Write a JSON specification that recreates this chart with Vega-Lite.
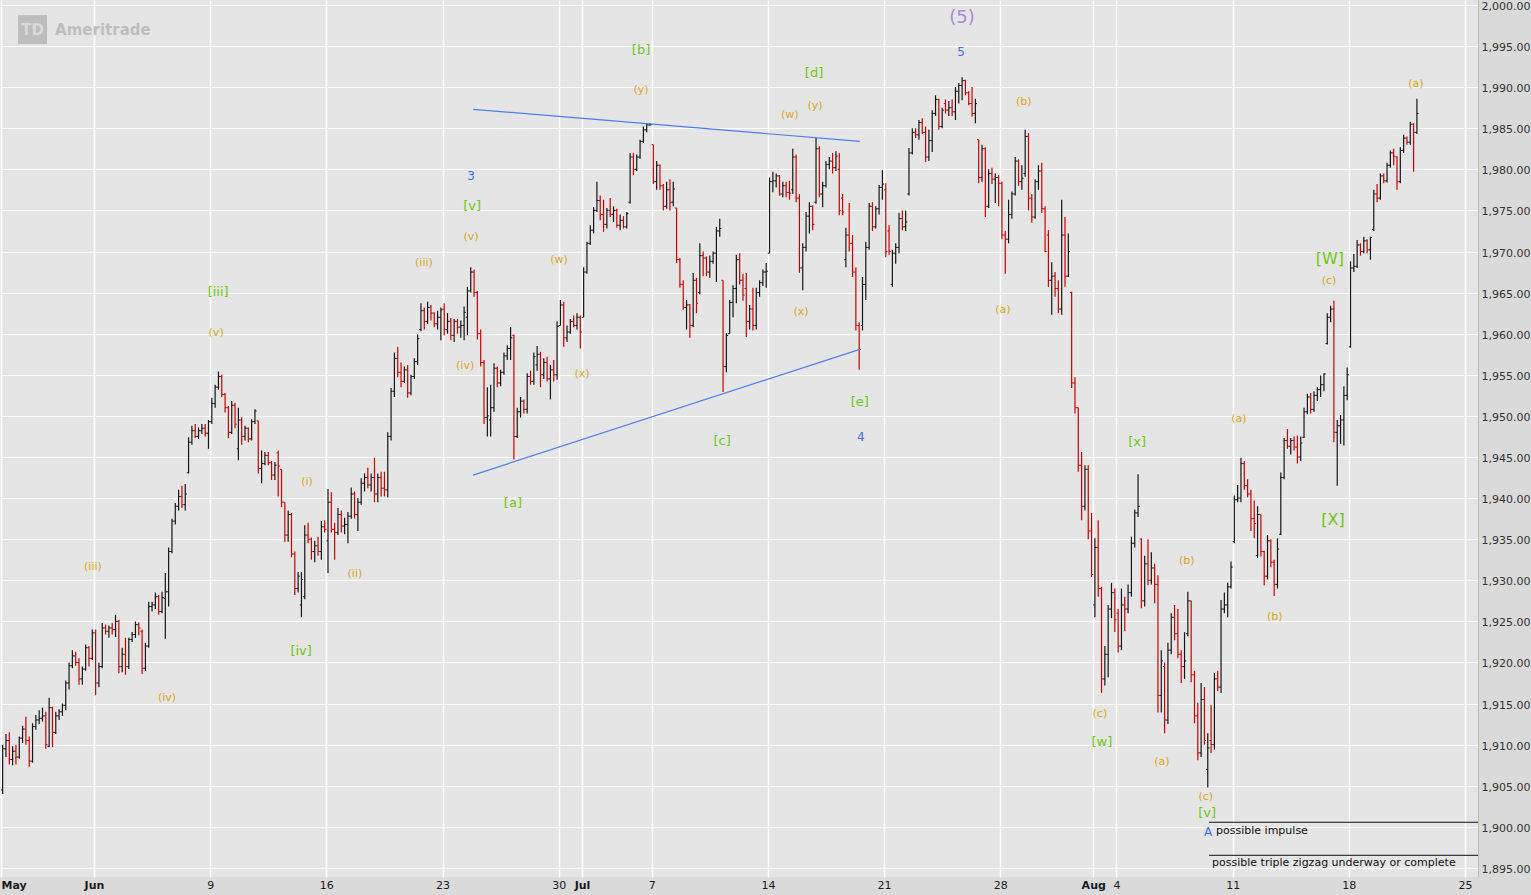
{
  "$schema": "https://vega.github.io/schema/vega-lite/v6.json",
  "width": 1478,
  "height": 877,
  "autosize": {"type": "none"},
  "padding": {"left": 0, "top": 0, "right": 53, "bottom": 18},
  "background": "#dadada",
  "config": {
    "view": {"fill": "#e5e5e5", "stroke": null},
    "font": "DejaVu Sans",
    "axis": {"labelFont": "DejaVu Sans", "labelColor": "#1a1a1a", "labelFontSize": 11, "ticks": false, "gridColor": "#ffffff", "gridOpacity": 1, "title": null}
  },
  "datasets": {
    "bars": [
      {"t":0,"o":1904.5,"h":1910,"l":1904,"c":1909.5},{"t":1,"o":1909.5,"h":1911.3,"l":1908.5,"c":1910.5},{"t":2,"o":1910.5,"h":1911.5,"l":1907.6,"c":1908.2},{"t":3,"o":1908.2,"h":1909.8,"l":1907.5,"c":1909.2},{"t":4,"o":1909.2,"h":1910,"l":1907.6,"c":1908.5},{"t":5,"o":1908.5,"h":1911,"l":1908.3,"c":1910.8},{"t":6,"o":1910.8,"h":1912.3,"l":1910.2,"c":1911.9},
      {"t":7,"o":1911.9,"h":1913.4,"l":1910,"c":1910.5},{"t":8,"o":1910.5,"h":1911,"l":1907.3,"c":1908},{"t":9,"o":1908,"h":1912.6,"l":1907.8,"c":1912.2},{"t":10,"o":1912.2,"h":1913.6,"l":1911.8,"c":1913},{"t":11,"o":1913,"h":1914.2,"l":1912.5,"c":1913.2},{"t":12,"o":1913.2,"h":1914.5,"l":1912.8,"c":1913.5},{"t":13,"o":1913.5,"h":1914,"l":1909.5,"c":1910},
      {"t":14,"o":1909.8,"h":1915.7,"l":1909.7,"c":1914.5},{"t":15,"o":1914.5,"h":1914.6,"l":1909.7,"c":1911.5},{"t":16,"o":1911.5,"h":1914,"l":1911.3,"c":1913.5},{"t":17,"o":1913.5,"h":1914.3,"l":1913,"c":1914},{"t":18,"o":1914,"h":1915,"l":1913.5,"c":1914.8},{"t":19,"o":1914.8,"h":1917.8,"l":1914.2,"c":1917.5},{"t":20,"o":1917.5,"h":1920,"l":1916.7,"c":1919.6},
      {"t":21,"o":1919.6,"h":1921.5,"l":1919.3,"c":1920.8},{"t":22,"o":1920.8,"h":1921.3,"l":1919.6,"c":1920},{"t":23,"o":1920,"h":1920.5,"l":1917.3,"c":1918},{"t":24,"o":1918,"h":1919.5,"l":1917.3,"c":1919.2},{"t":25,"o":1919.2,"h":1922.2,"l":1919,"c":1921.8},{"t":26,"o":1921.8,"h":1922,"l":1919.5,"c":1920.5},{"t":27,"o":1920.5,"h":1924,"l":1920.3,"c":1923.6},
      {"t":28,"o":1923.6,"h":1924,"l":1916,"c":1917.5},{"t":29,"o":1917.5,"h":1920,"l":1917,"c":1919.5},{"t":30,"o":1919.5,"h":1924.8,"l":1919.3,"c":1924.2},{"t":31,"o":1924.2,"h":1924.6,"l":1923.4,"c":1923.8},{"t":32,"o":1923.8,"h":1924.5,"l":1923,"c":1924.2},{"t":33,"o":1924.2,"h":1924.8,"l":1923.4,"c":1924},{"t":34,"o":1924,"h":1925.8,"l":1923.1,"c":1925},
      {"t":35,"o":1925,"h":1925.2,"l":1918.7,"c":1919.5},{"t":36,"o":1919.5,"h":1921.8,"l":1918.8,"c":1921},{"t":37,"o":1921,"h":1923,"l":1918.5,"c":1919.5},{"t":38,"o":1919.5,"h":1923,"l":1919.2,"c":1922.8},{"t":39,"o":1922.8,"h":1923.7,"l":1922.5,"c":1923.4},{"t":40,"o":1923.4,"h":1925,"l":1923,"c":1924.6},{"t":41,"o":1924.6,"h":1924.9,"l":1923.3,"c":1924.2},
      {"t":42,"o":1923.8,"h":1924,"l":1918.6,"c":1919.3},{"t":43,"o":1919.3,"h":1922.4,"l":1919,"c":1922},{"t":44,"o":1922,"h":1927.4,"l":1921.8,"c":1926.8},{"t":45,"o":1926.8,"h":1927.4,"l":1926.2,"c":1927},{"t":46,"o":1927,"h":1928.5,"l":1926.5,"c":1928},{"t":47,"o":1928,"h":1928.2,"l":1925.8,"c":1926.2},{"t":48,"o":1926.2,"h":1928.6,"l":1926,"c":1927.9},
      {"t":49,"o":1927.8,"h":1930.9,"l":1922.9,"c":1928.6},{"t":50,"o":1928.6,"h":1934,"l":1926.8,"c":1933.5},{"t":51,"o":1933.5,"h":1937.5,"l":1933.3,"c":1937.2},{"t":52,"o":1937.2,"h":1939.4,"l":1936.8,"c":1939},{"t":53,"o":1939,"h":1941,"l":1938.5,"c":1940.2},{"t":54,"o":1940.2,"h":1941.5,"l":1938.8,"c":1939.2},{"t":55,"o":1939.2,"h":1941.7,"l":1938.5,"c":1940.5},
      {"t":56,"o":1943.1,"h":1947.4,"l":1943,"c":1946.8},{"t":57,"o":1946.8,"h":1948.8,"l":1946.5,"c":1948.2},{"t":58,"o":1948.2,"h":1949,"l":1947.3,"c":1947.5},{"t":59,"o":1947.5,"h":1948.6,"l":1947.2,"c":1948.2},{"t":60,"o":1948.2,"h":1949,"l":1947.8,"c":1948.5},{"t":61,"o":1948.5,"h":1949,"l":1947.5,"c":1947.9},{"t":62,"o":1947.9,"h":1949.5,"l":1946,"c":1949.3},
      {"t":63,"o":1949.3,"h":1952.2,"l":1949,"c":1951.5},{"t":64,"o":1951.5,"h":1953.8,"l":1951,"c":1953.5},{"t":65,"o":1953.5,"h":1955.4,"l":1953.2,"c":1954.8},{"t":66,"o":1954.8,"h":1955,"l":1952.3,"c":1952.6},{"t":67,"o":1952.6,"h":1952.8,"l":1950.4,"c":1951},{"t":68,"o":1951,"h":1951.2,"l":1947.3,"c":1948},{"t":69,"o":1948,"h":1951.8,"l":1947.8,"c":1951.3},
      {"t":70,"o":1951.3,"h":1951.6,"l":1948.5,"c":1949},{"t":71,"o":1946,"h":1951,"l":1944.6,"c":1949.5},{"t":72,"o":1949.5,"h":1949.8,"l":1946.5,"c":1947.5},{"t":73,"o":1947.5,"h":1948.8,"l":1947,"c":1948.5},{"t":74,"o":1948.5,"h":1948.6,"l":1946.8,"c":1947.2},{"t":75,"o":1947.2,"h":1949.6,"l":1947,"c":1949.3},{"t":76,"o":1949.3,"h":1950.8,"l":1949,"c":1950.6},
      {"t":77,"o":1949.4,"h":1949.4,"l":1943,"c":1943.6},{"t":78,"o":1943.6,"h":1945.8,"l":1941.8,"c":1944.2},{"t":79,"o":1944.2,"h":1945.6,"l":1944,"c":1945.2},{"t":80,"o":1945.2,"h":1945.6,"l":1944,"c":1944.3},{"t":81,"o":1944.3,"h":1944.5,"l":1942.2,"c":1942.8},{"t":82,"o":1942.8,"h":1944.4,"l":1942.2,"c":1944},{"t":83,"o":1945.5,"h":1945.8,"l":1940.2,"c":1943.9},
      {"t":84,"o":1943.5,"h":1943.5,"l":1938.9,"c":1939.5},{"t":85,"o":1939.5,"h":1939.5,"l":1934.7,"c":1935.5},{"t":86,"o":1935.5,"h":1938.5,"l":1934.7,"c":1938},{"t":87,"o":1938,"h":1938.2,"l":1932.8,"c":1933.2},{"t":88,"o":1933.2,"h":1933.5,"l":1928.2,"c":1929},{"t":89,"o":1929,"h":1931,"l":1928.5,"c":1930.5},{"t":90,"o":1927,"h":1931,"l":1925.5,"c":1930.1},
      {"t":91,"o":1928,"h":1936.7,"l":1927.7,"c":1935.5},{"t":92,"o":1935.5,"h":1937,"l":1934.5,"c":1935},{"t":93,"o":1935,"h":1935.2,"l":1932.5,"c":1933.5},{"t":94,"o":1933.5,"h":1934.8,"l":1932.2,"c":1934.2},{"t":95,"o":1934.2,"h":1935.3,"l":1933,"c":1933.5},{"t":96,"o":1933.5,"h":1937.2,"l":1932.5,"c":1936.5},{"t":97,"o":1936.5,"h":1937.3,"l":1935.8,"c":1936.2},
      {"t":98,"o":1934.8,"h":1941.1,"l":1930.9,"c":1939.5},{"t":99,"o":1939.5,"h":1940.7,"l":1935.8,"c":1936.2},{"t":100,"o":1936.2,"h":1937,"l":1932.5,"c":1935.8},{"t":101,"o":1935.8,"h":1938.8,"l":1935.5,"c":1938},{"t":102,"o":1938,"h":1938.5,"l":1935.8,"c":1936.6},{"t":103,"o":1936.6,"h":1937.6,"l":1935.6,"c":1936.8},{"t":104,"o":1936.8,"h":1938.3,"l":1934.5,"c":1937.8},
      {"t":105,"o":1937.8,"h":1941.3,"l":1937.5,"c":1940.5},{"t":106,"o":1940.5,"h":1940.8,"l":1937.5,"c":1938},{"t":107,"o":1938,"h":1940,"l":1936,"c":1939.5},{"t":108,"o":1939.5,"h":1942.4,"l":1939.2,"c":1941.8},{"t":109,"o":1941.8,"h":1943,"l":1940.8,"c":1942.5},{"t":110,"o":1942.5,"h":1943.7,"l":1941.2,"c":1941.6},{"t":111,"o":1941.6,"h":1943,"l":1940.8,"c":1942.5},
      {"t":112,"o":1942.5,"h":1944.9,"l":1939.5,"c":1940.5},{"t":113,"o":1940.5,"h":1943,"l":1939.5,"c":1942.5},{"t":114,"o":1942.5,"h":1943.2,"l":1940.2,"c":1941.2},{"t":115,"o":1941.2,"h":1943.2,"l":1940.2,"c":1941},{"t":116,"o":1941,"h":1948,"l":1940.1,"c":1947.5},{"t":117,"o":1947.5,"h":1953.4,"l":1947,"c":1953},{"t":118,"o":1953,"h":1957.7,"l":1952.3,"c":1957},
      {"t":119,"o":1957,"h":1958.4,"l":1954.7,"c":1955.3},{"t":120,"o":1955.3,"h":1956.5,"l":1953.5,"c":1954.2},{"t":121,"o":1954.2,"h":1956,"l":1954,"c":1955.6},{"t":122,"o":1955.6,"h":1956.2,"l":1952.2,"c":1952.8},{"t":123,"o":1952.8,"h":1955,"l":1952.5,"c":1954.8},{"t":124,"o":1954.8,"h":1957,"l":1954.5,"c":1956.6},{"t":125,"o":1956.6,"h":1959.9,"l":1956.2,"c":1959.4},
      {"t":126,"o":1960.5,"h":1963.7,"l":1960.3,"c":1962.8},{"t":127,"o":1962.8,"h":1963.2,"l":1960.5,"c":1961.5},{"t":128,"o":1961.5,"h":1963.9,"l":1961.2,"c":1963.2},{"t":129,"o":1963.2,"h":1963.5,"l":1961.6,"c":1962.5},{"t":130,"o":1962.5,"h":1962.6,"l":1960.8,"c":1961.2},{"t":131,"o":1961.2,"h":1962.8,"l":1960.5,"c":1962},{"t":132,"o":1962,"h":1963.2,"l":1959.2,"c":1962.9},
      {"t":133,"o":1963,"h":1963.7,"l":1959.8,"c":1960.5},{"t":134,"o":1960.5,"h":1962.5,"l":1960,"c":1961.5},{"t":135,"o":1961.5,"h":1961.9,"l":1959.2,"c":1959.8},{"t":136,"o":1959.8,"h":1961.8,"l":1959,"c":1961.5},{"t":137,"o":1961.5,"h":1961.8,"l":1960,"c":1960.8},{"t":138,"o":1960.8,"h":1961.6,"l":1959.5,"c":1961},{"t":139,"o":1961,"h":1963.3,"l":1959.2,"c":1962.6},
      {"t":140,"o":1962,"h":1965.7,"l":1959.8,"c":1965.2},{"t":141,"o":1965.2,"h":1968.1,"l":1965,"c":1967.5},{"t":142,"o":1967.5,"h":1967.8,"l":1964.5,"c":1965},{"t":143,"o":1965,"h":1965.2,"l":1959.3,"c":1960},{"t":144,"o":1960,"h":1960.5,"l":1956,"c":1956.5},{"t":145,"o":1956.5,"h":1956.8,"l":1949,"c":1949.8},{"t":146,"o":1949.8,"h":1953.5,"l":1947.5,"c":1950},
      {"t":147,"o":1949.5,"h":1953.8,"l":1947.5,"c":1951},{"t":148,"o":1951,"h":1956.4,"l":1950.5,"c":1955.8},{"t":149,"o":1955.8,"h":1956,"l":1953.5,"c":1954},{"t":150,"o":1954,"h":1955.6,"l":1953.6,"c":1955.3},{"t":151,"o":1955.3,"h":1957.7,"l":1955,"c":1957.3},{"t":152,"o":1957.3,"h":1958.6,"l":1956.8,"c":1958.2},{"t":153,"o":1958.2,"h":1960.8,"l":1956.8,"c":1959.5},
      {"t":154,"o":1959.8,"h":1959.9,"l":1944.7,"c":1947.5},{"t":155,"o":1947.5,"h":1951,"l":1947.3,"c":1950.5},{"t":156,"o":1950.5,"h":1952.3,"l":1949.8,"c":1951.8},{"t":157,"o":1951.8,"h":1952,"l":1950.3,"c":1950.8},{"t":158,"o":1950.8,"h":1955.2,"l":1950.3,"c":1954.8},{"t":159,"o":1954.8,"h":1955.5,"l":1953.8,"c":1954.2},{"t":160,"o":1954.2,"h":1957.7,"l":1953.8,"c":1957.2},
      {"t":161,"o":1956.2,"h":1958.5,"l":1955.5,"c":1957.5},{"t":162,"o":1957.5,"h":1957.8,"l":1953.5,"c":1955},{"t":163,"o":1955,"h":1957,"l":1954.5,"c":1956.5},{"t":164,"o":1956.5,"h":1957.2,"l":1954.2,"c":1954.5},{"t":165,"o":1954.5,"h":1956.2,"l":1952,"c":1955.6},{"t":166,"o":1955.6,"h":1956.8,"l":1954.2,"c":1955},{"t":167,"o":1955,"h":1961.5,"l":1954.4,"c":1960.9},
      {"t":168,"o":1961,"h":1964.1,"l":1961,"c":1963.5},{"t":169,"o":1963.5,"h":1963.9,"l":1958.4,"c":1959.5},{"t":170,"o":1959.5,"h":1961,"l":1959,"c":1960.2},{"t":171,"o":1960.2,"h":1961.8,"l":1960,"c":1961.5},{"t":172,"o":1961.5,"h":1962.2,"l":1960.8,"c":1961},{"t":173,"o":1961,"h":1962.5,"l":1960.5,"c":1962},{"t":174,"o":1962,"h":1962.2,"l":1958.2,"c":1960.2},
      {"t":175,"o":1962,"h":1968.1,"l":1962,"c":1967.5},{"t":176,"o":1967.5,"h":1971.2,"l":1967.3,"c":1971},{"t":177,"o":1971,"h":1973.2,"l":1970.8,"c":1972.6},{"t":178,"o":1972.6,"h":1975.4,"l":1972.2,"c":1975},{"t":179,"o":1975,"h":1978.5,"l":1974.8,"c":1976.2},{"t":180,"o":1976.2,"h":1976.8,"l":1973.8,"c":1974.5},{"t":181,"o":1974.5,"h":1976.3,"l":1972.4,"c":1973.3},
      {"t":182,"o":1973.3,"h":1975.3,"l":1972.8,"c":1975},{"t":183,"o":1975,"h":1976.5,"l":1974.2,"c":1974.5},{"t":184,"o":1974.5,"h":1975.5,"l":1973.6,"c":1975},{"t":185,"o":1975,"h":1975.2,"l":1972.9,"c":1973.2},{"t":186,"o":1973.2,"h":1974.5,"l":1972.6,"c":1973.8},{"t":187,"o":1973.8,"h":1974.3,"l":1972.8,"c":1973},{"t":188,"o":1973,"h":1974.8,"l":1972.8,"c":1974.6},
      {"t":189,"o":1976,"h":1982,"l":1975.8,"c":1981.5},{"t":190,"o":1981.5,"h":1982,"l":1979.3,"c":1980},{"t":191,"o":1980,"h":1981.8,"l":1979.8,"c":1981.5},{"t":192,"o":1981.5,"h":1983.6,"l":1981.3,"c":1983.4},{"t":193,"o":1983.4,"h":1985.2,"l":1983.2,"c":1984.8},{"t":194,"o":1984.8,"h":1985.6,"l":1984.5,"c":1985.4},{"t":195,"o":1985.4,"h":1985.6,"l":1985.3,"c":1985.45},
      {"t":196,"o":1983,"h":1983,"l":1978.2,"c":1978.5},{"t":197,"o":1978.5,"h":1981,"l":1977.5,"c":1980.5},{"t":198,"o":1980.5,"h":1980.6,"l":1977.5,"c":1978},{"t":199,"o":1978,"h":1978.2,"l":1975,"c":1975.5},{"t":200,"o":1975.5,"h":1978.5,"l":1975.2,"c":1977.5},{"t":201,"o":1977.5,"h":1978.8,"l":1975,"c":1976},{"t":202,"o":1976,"h":1978.5,"l":1975.5,"c":1977.6},
      {"t":203,"o":1975.3,"h":1975.3,"l":1968.6,"c":1969},{"t":204,"o":1969,"h":1969.2,"l":1965.6,"c":1966},{"t":205,"o":1966,"h":1966.5,"l":1962.9,"c":1963.2},{"t":206,"o":1963.2,"h":1964.1,"l":1960.5,"c":1963.5},{"t":207,"o":1963.5,"h":1963.6,"l":1959.5,"c":1961},{"t":208,"o":1961,"h":1967.4,"l":1960.8,"c":1966.5},{"t":209,"o":1966.5,"h":1966.8,"l":1962.5,"c":1963.7},
      {"t":210,"o":1965,"h":1971,"l":1964.8,"c":1969.5},{"t":211,"o":1969.5,"h":1970,"l":1967,"c":1969.2},{"t":212,"o":1969.2,"h":1969.4,"l":1967,"c":1967.5},{"t":213,"o":1967.5,"h":1969.5,"l":1966.8,"c":1968.8},{"t":214,"o":1968.8,"h":1970,"l":1968.5,"c":1969.8},{"t":215,"o":1969.8,"h":1973,"l":1966.3,"c":1972.5},{"t":216,"o":1972.5,"h":1974,"l":1971.8,"c":1972.8},
      {"t":217,"o":1966.5,"h":1966.5,"l":1952.9,"c":1956},{"t":218,"o":1956,"h":1960.1,"l":1955.3,"c":1959.8},{"t":219,"o":1960,"h":1964.1,"l":1960,"c":1963.8},{"t":220,"o":1963.8,"h":1965.9,"l":1962,"c":1965.5},{"t":221,"o":1965.5,"h":1969.6,"l":1963.7,"c":1969},{"t":222,"o":1969,"h":1969.8,"l":1966,"c":1966.5},{"t":223,"o":1966.5,"h":1967.3,"l":1964,"c":1964.7},
      {"t":224,"o":1965.5,"h":1967.4,"l":1959.6,"c":1961.5},{"t":225,"o":1961.5,"h":1963.5,"l":1960.5,"c":1963},{"t":226,"o":1963,"h":1965.6,"l":1960.4,"c":1961},{"t":227,"o":1961,"h":1965.6,"l":1960.5,"c":1965},{"t":228,"o":1965,"h":1966.5,"l":1964.5,"c":1966.2},{"t":229,"o":1966.2,"h":1967.8,"l":1965.8,"c":1967.5},{"t":230,"o":1967.5,"h":1968.6,"l":1965.6,"c":1967.6},
      {"t":231,"o":1969.8,"h":1979,"l":1969.8,"c":1978.5},{"t":232,"o":1978.5,"h":1979.7,"l":1977.2,"c":1978.6},{"t":233,"o":1978.6,"h":1979.5,"l":1977.8,"c":1979.2},{"t":234,"o":1979.2,"h":1979.3,"l":1976.8,"c":1977},{"t":235,"o":1977,"h":1978.5,"l":1976.6,"c":1978},{"t":236,"o":1978,"h":1978.5,"l":1976.6,"c":1977.2},{"t":237,"o":1977.2,"h":1978.6,"l":1976.3,"c":1977.1},
      {"t":238,"o":1977.5,"h":1982.5,"l":1977,"c":1981.5},{"t":239,"o":1981.5,"h":1981.8,"l":1976,"c":1976.5},{"t":240,"o":1976.5,"h":1977,"l":1967.4,"c":1968},{"t":241,"o":1968,"h":1971,"l":1965.3,"c":1970.5},{"t":242,"o":1970.5,"h":1974.8,"l":1970,"c":1974.3},{"t":243,"o":1974.3,"h":1976,"l":1972.2,"c":1975.5},{"t":244,"o":1975.5,"h":1975.6,"l":1972.6,"c":1973.3},
      {"t":245,"o":1976,"h":1983.8,"l":1975.8,"c":1982.5},{"t":246,"o":1982.5,"h":1982.8,"l":1976.6,"c":1977},{"t":247,"o":1977,"h":1978.5,"l":1975.4,"c":1978},{"t":248,"o":1978,"h":1981,"l":1977.8,"c":1980.6},{"t":249,"o":1980.6,"h":1981.5,"l":1980,"c":1981},{"t":250,"o":1981,"h":1982,"l":1979.5,"c":1980.2},{"t":251,"o":1980.2,"h":1982.2,"l":1979.8,"c":1981.6},
      {"t":252,"o":1980,"h":1982,"l":1974.4,"c":1975},{"t":253,"o":1976.5,"h":1977,"l":1974.4,"c":1974.8},{"t":254,"o":1969,"h":1972.9,"l":1968.1,"c":1972},{"t":255,"o":1972,"h":1975.9,"l":1970,"c":1971},{"t":256,"o":1971,"h":1972,"l":1966.9,"c":1967.5},{"t":257,"o":1967.5,"h":1968.1,"l":1960.4,"c":1961},{"t":258,"o":1961,"h":1961.4,"l":1955.6,"c":1958.1},
      {"t":259,"o":1961,"h":1966.9,"l":1960.4,"c":1966},{"t":260,"o":1966,"h":1971.2,"l":1964.1,"c":1970.5},{"t":261,"o":1970.5,"h":1975.9,"l":1970.2,"c":1975.5},{"t":262,"o":1975.5,"h":1976,"l":1972.5,"c":1973},{"t":263,"o":1973,"h":1975.5,"l":1972.8,"c":1975.2},{"t":264,"o":1975.2,"h":1978.1,"l":1974.5,"c":1977.8},{"t":265,"o":1977.8,"h":1979.9,"l":1976.3,"c":1978.2},
      {"t":266,"o":1977.5,"h":1978.3,"l":1969.3,"c":1970},{"t":267,"o":1972.5,"h":1973.2,"l":1969.6,"c":1970},{"t":268,"o":1966,"h":1970.2,"l":1965.7,"c":1969.8},{"t":269,"o":1969.8,"h":1971,"l":1968.5,"c":1970.5},{"t":270,"o":1970.5,"h":1974.7,"l":1969.8,"c":1974},{"t":271,"o":1974,"h":1975,"l":1972.6,"c":1973},{"t":272,"o":1973,"h":1975,"l":1972.5,"c":1973.6},
      {"t":273,"o":1977,"h":1982.6,"l":1976.8,"c":1982},{"t":274,"o":1982,"h":1985,"l":1981.8,"c":1984.5},{"t":275,"o":1984.5,"h":1985,"l":1983.8,"c":1984.2},{"t":276,"o":1984.2,"h":1986,"l":1983.6,"c":1985.7},{"t":277,"o":1985.7,"h":1986.2,"l":1984.3,"c":1984.5},{"t":278,"o":1984.5,"h":1985.2,"l":1980.9,"c":1981.5},{"t":279,"o":1981.5,"h":1984.8,"l":1981,"c":1983.5},
      {"t":280,"o":1983.5,"h":1987.2,"l":1982.1,"c":1986.8},{"t":281,"o":1986.8,"h":1989,"l":1986.5,"c":1988.5},{"t":282,"o":1988.5,"h":1988.6,"l":1984.8,"c":1985.2},{"t":283,"o":1985.2,"h":1987.5,"l":1985,"c":1987.2},{"t":284,"o":1988,"h":1988.5,"l":1986.8,"c":1987.2},{"t":285,"o":1987.2,"h":1988.3,"l":1986.5,"c":1987.5},{"t":286,"o":1987.5,"h":1988.5,"l":1986.5,"c":1987},
      {"t":287,"o":1987,"h":1990,"l":1986,"c":1989.5},{"t":288,"o":1989.5,"h":1990.5,"l":1988,"c":1990.2},{"t":289,"o":1990.2,"h":1991.2,"l":1988.4,"c":1990.8},{"t":290,"o":1990.8,"h":1990.9,"l":1989,"c":1989.3},{"t":291,"o":1989.3,"h":1989.5,"l":1987.8,"c":1988},{"t":292,"o":1988,"h":1990,"l":1986.4,"c":1986.8},{"t":293,"o":1986.8,"h":1988.6,"l":1985.6,"c":1988},
      {"t":294,"o":1983.6,"h":1983.6,"l":1978.3,"c":1979},{"t":295,"o":1979,"h":1983,"l":1978.5,"c":1982.5},{"t":296,"o":1982.5,"h":1982.7,"l":1974.2,"c":1975.5},{"t":297,"o":1975.5,"h":1980,"l":1975.3,"c":1979.5},{"t":298,"o":1979.5,"h":1980.2,"l":1978.2,"c":1978.8},{"t":299,"o":1978.8,"h":1979.5,"l":1975.9,"c":1979},{"t":300,"o":1979,"h":1979.3,"l":1975.5,"c":1978.3},
      {"t":301,"o":1978.3,"h":1978.5,"l":1971.5,"c":1972},{"t":302,"o":1972,"h":1972.5,"l":1967.3,"c":1971.5},{"t":303,"o":1971.5,"h":1976.3,"l":1971,"c":1974.5},{"t":304,"o":1974.5,"h":1977.3,"l":1974,"c":1977},{"t":305,"o":1977,"h":1981.5,"l":1976.8,"c":1981},{"t":306,"o":1981,"h":1981.2,"l":1978,"c":1978.5},{"t":307,"o":1978.5,"h":1980.5,"l":1977.5,"c":1978.9},
      {"t":308,"o":1979.5,"h":1984.8,"l":1979.1,"c":1984},{"t":309,"o":1984,"h":1984.4,"l":1975,"c":1976.5},{"t":310,"o":1976.5,"h":1977,"l":1973.5,"c":1974.2},{"t":311,"o":1974.2,"h":1978.8,"l":1974,"c":1978.5},{"t":312,"o":1978.5,"h":1980.5,"l":1977.5,"c":1979.8},{"t":313,"o":1979.8,"h":1980.8,"l":1974.7,"c":1975.2},{"t":314,"o":1975.2,"h":1975.5,"l":1969.9,"c":1970},
      {"t":315,"o":1972,"h":1972.6,"l":1965.7,"c":1966.5},{"t":316,"o":1966.5,"h":1968.7,"l":1962.3,"c":1967},{"t":317,"o":1967,"h":1967.5,"l":1964.5,"c":1965.5},{"t":318,"o":1965.5,"h":1966.5,"l":1962.5,"c":1963},{"t":319,"o":1963,"h":1976.3,"l":1962.3,"c":1972},{"t":320,"o":1972,"h":1974.2,"l":1965.7,"c":1967},{"t":321,"o":1967,"h":1972.2,"l":1966.9,"c":1970},
      {"t":322,"o":1965,"h":1965.1,"l":1953.4,"c":1954},{"t":323,"o":1954,"h":1954.7,"l":1950.3,"c":1951},{"t":324,"o":1951,"h":1951,"l":1943.2,"c":1944},{"t":325,"o":1944,"h":1945.6,"l":1937.3,"c":1939},{"t":326,"o":1939,"h":1944,"l":1938.5,"c":1943.5},{"t":327,"o":1943.5,"h":1944,"l":1935,"c":1936},{"t":328,"o":1936,"h":1938.2,"l":1930.4,"c":1930.7},
      {"t":329,"o":1927,"h":1935.1,"l":1925.5,"c":1934},{"t":330,"o":1934,"h":1937.3,"l":1928,"c":1929},{"t":331,"o":1929,"h":1929.2,"l":1916.3,"c":1918},{"t":332,"o":1918,"h":1922,"l":1917.2,"c":1921},{"t":333,"o":1921,"h":1927,"l":1918.2,"c":1926.5},{"t":334,"o":1926.5,"h":1929.7,"l":1925.4,"c":1928.5},{"t":335,"o":1928.5,"h":1929,"l":1923.7,"c":1925.2},
      {"t":336,"o":1926,"h":1926.5,"l":1921.2,"c":1922},{"t":337,"o":1922,"h":1929,"l":1921.5,"c":1927},{"t":338,"o":1927,"h":1928,"l":1923.8,"c":1926.5},{"t":339,"o":1926.5,"h":1929.5,"l":1926,"c":1928.5},{"t":340,"o":1928.5,"h":1935.3,"l":1928,"c":1934.5},{"t":341,"o":1934.5,"h":1938.6,"l":1934,"c":1938.2},{"t":342,"o":1938.2,"h":1942.9,"l":1937.7,"c":1939},
      {"t":343,"o":1935,"h":1935.1,"l":1926.6,"c":1927.5},{"t":344,"o":1927.5,"h":1933,"l":1926.8,"c":1932},{"t":345,"o":1932,"h":1935,"l":1929.4,"c":1930},{"t":346,"o":1930,"h":1933.4,"l":1929.5,"c":1931.5},{"t":347,"o":1931.5,"h":1932,"l":1927.2,"c":1929.5},{"t":348,"o":1929.5,"h":1930.6,"l":1913.9,"c":1916},{"t":349,"o":1916,"h":1921.5,"l":1913.9,"c":1920.2},
      {"t":350,"o":1919.5,"h":1920,"l":1911.4,"c":1913},{"t":351,"o":1913,"h":1922.4,"l":1912.5,"c":1921.5},{"t":352,"o":1921.5,"h":1926,"l":1921,"c":1925.5},{"t":353,"o":1925.5,"h":1927,"l":1922.7,"c":1923.5},{"t":354,"o":1923.5,"h":1926.5,"l":1920.5,"c":1921},{"t":355,"o":1921,"h":1921.5,"l":1917.5,"c":1919.5},{"t":356,"o":1919.5,"h":1923.7,"l":1918,"c":1920.2},
      {"t":357,"o":1923.5,"h":1928.6,"l":1923.2,"c":1927.5},{"t":358,"o":1927.5,"h":1927.5,"l":1917.6,"c":1918.5},{"t":359,"o":1918.5,"h":1919,"l":1912.6,"c":1913.5},{"t":360,"o":1913.5,"h":1915.1,"l":1908.1,"c":1909},{"t":361,"o":1909,"h":1917.5,"l":1908.5,"c":1915.5},{"t":362,"o":1915.5,"h":1917,"l":1910,"c":1910.5},{"t":363,"o":1907,"h":1911.4,"l":1904.8,"c":1909.6},
      {"t":364,"o":1910.5,"h":1914.8,"l":1909,"c":1910},{"t":365,"o":1910,"h":1918.7,"l":1909.4,"c":1918},{"t":366,"o":1918,"h":1919,"l":1916.5,"c":1917},{"t":367,"o":1917,"h":1927.6,"l":1916.3,"c":1926.5},{"t":368,"o":1926.5,"h":1928.5,"l":1926,"c":1927},{"t":369,"o":1927,"h":1929.7,"l":1925.5,"c":1929.2},{"t":370,"o":1929.2,"h":1932.3,"l":1929,"c":1931.6},
      {"t":371,"o":1934.7,"h":1940.3,"l":1934.5,"c":1939.8},{"t":372,"o":1939.8,"h":1941.6,"l":1939.5,"c":1940},{"t":373,"o":1940,"h":1944.9,"l":1939.5,"c":1944.2},{"t":374,"o":1944.2,"h":1944.5,"l":1941,"c":1941.5},{"t":375,"o":1941.5,"h":1942.3,"l":1940.1,"c":1940.5},{"t":376,"o":1940.5,"h":1941,"l":1936,"c":1937.5},{"t":377,"o":1937.5,"h":1939.7,"l":1935.1,"c":1936.9},
      {"t":378,"o":1933,"h":1939,"l":1932.7,"c":1938},{"t":379,"o":1938,"h":1938,"l":1932.9,"c":1933.5},{"t":380,"o":1933.5,"h":1933.6,"l":1929.4,"c":1930.5},{"t":381,"o":1930.5,"h":1935.5,"l":1930.1,"c":1934.8},{"t":382,"o":1934.8,"h":1935,"l":1931.6,"c":1932.2},{"t":383,"o":1932.2,"h":1932.5,"l":1928.1,"c":1929.5},{"t":384,"o":1929.5,"h":1935.1,"l":1929,"c":1933.8},
      {"t":385,"o":1935.6,"h":1943.1,"l":1935.5,"c":1942.5},{"t":386,"o":1942.5,"h":1947.3,"l":1942.3,"c":1947},{"t":387,"o":1947,"h":1948.4,"l":1946,"c":1946.3},{"t":388,"o":1946.3,"h":1947.3,"l":1945.3,"c":1947},{"t":389,"o":1947,"h":1947.5,"l":1945.8,"c":1946.2},{"t":390,"o":1946.2,"h":1947.6,"l":1944.2,"c":1945},{"t":391,"o":1945,"h":1947.5,"l":1944.5,"c":1946.7},
      {"t":392,"o":1947.4,"h":1951,"l":1947.3,"c":1950.5},{"t":393,"o":1950.5,"h":1952.7,"l":1950.2,"c":1952.3},{"t":394,"o":1952.3,"h":1952.8,"l":1950.3,"c":1950.8},{"t":395,"o":1950.8,"h":1953,"l":1950.5,"c":1952.5},{"t":396,"o":1952.5,"h":1953.5,"l":1951.8,"c":1953.2},{"t":397,"o":1953.2,"h":1954.9,"l":1952.3,"c":1953.8},{"t":398,"o":1953.8,"h":1955.2,"l":1953,"c":1955.1},
      {"t":399,"o":1958.8,"h":1962.5,"l":1958.7,"c":1962},{"t":400,"o":1962,"h":1963.4,"l":1961.4,"c":1963},{"t":401,"o":1963,"h":1964,"l":1946.8,"c":1948},{"t":402,"o":1948,"h":1949.5,"l":1941.5,"c":1948.8},{"t":403,"o":1948.8,"h":1950.1,"l":1946.6,"c":1949.5},{"t":404,"o":1949.5,"h":1953.6,"l":1946.4,"c":1952.5},{"t":405,"o":1952.5,"h":1955.9,"l":1951.9,"c":1955},
      {"t":406,"o":1958.4,"h":1968.8,"l":1958.3,"c":1968},{"t":407,"o":1968,"h":1969.7,"l":1967.5,"c":1968.2},{"t":408,"o":1968.2,"h":1971.4,"l":1968,"c":1970.8},{"t":409,"o":1970.8,"h":1971,"l":1969.5,"c":1970},{"t":410,"o":1970,"h":1971.8,"l":1969.8,"c":1971.3},{"t":411,"o":1971.3,"h":1971.5,"l":1969.8,"c":1970.2},{"t":412,"o":1970.2,"h":1971.8,"l":1969,"c":1971.7},
      {"t":413,"o":1972.7,"h":1977.5,"l":1972.5,"c":1977},{"t":414,"o":1977,"h":1978.2,"l":1976,"c":1976.5},{"t":415,"o":1976.5,"h":1979.5,"l":1976.3,"c":1979.2},{"t":416,"o":1979.2,"h":1979.5,"l":1978.3,"c":1978.6},{"t":417,"o":1978.6,"h":1980.8,"l":1978.4,"c":1980.5},{"t":418,"o":1980.5,"h":1982.3,"l":1980.2,"c":1982},{"t":419,"o":1982,"h":1982.5,"l":1980.5,"c":1981.6},
      {"t":420,"o":1981.5,"h":1981.6,"l":1977.5,"c":1978.5},{"t":421,"o":1978.5,"h":1982.7,"l":1978.3,"c":1982.3},{"t":422,"o":1982.3,"h":1984.2,"l":1982,"c":1983.8},{"t":423,"o":1983.8,"h":1984,"l":1983,"c":1983.3},{"t":424,"o":1983.3,"h":1985.8,"l":1983,"c":1985.5},{"t":425,"o":1985.5,"h":1985.6,"l":1979.7,"c":1984.5},{"t":426,"o":1984.5,"h":1988.6,"l":1984.3,"c":1986.8}
    ],
    "triangle": [
      {"t":141.7,"p":1987.3,"t2":258.2,"p2":1983.4},
      {"t":141.7,"p":1942.8,"t2":258.2,"p2":1958.1}
    ],
    "levels": [
      {"t":363.4,"p":1900.56,"t2":444.4,"p2":1900.56},
      {"t":363.4,"p":1896.54,"t2":444.4,"p2":1896.54}
    ],
    "minuette": [
      {"t":27.2,"p":1931.6,"txt":"(iii)"},{"t":49.5,"p":1915.7,"txt":"(iv)"},{"t":64.3,"p":1960.1,"txt":"(v)"},
      {"t":91.7,"p":1942.0,"txt":"(i)"},{"t":106.1,"p":1930.8,"txt":"(ii)"},{"t":126.9,"p":1968.6,"txt":"(iii)"},
      {"t":139.3,"p":1956.1,"txt":"(iv)"},{"t":141.1,"p":1971.8,"txt":"(v)"},{"t":167.6,"p":1969.0,"txt":"(w)"},
      {"t":174.5,"p":1955.1,"txt":"(x)"},{"t":192.3,"p":1989.6,"txt":"(y)"},{"t":237.1,"p":1986.6,"txt":"(w)"},
      {"t":244.7,"p":1987.7,"txt":"(y)"},{"t":240.5,"p":1962.6,"txt":"(x)"},{"t":307.6,"p":1988.2,"txt":"(b)"},
      {"t":301.3,"p":1962.9,"txt":"(a)"},{"t":330.5,"p":1913.7,"txt":"(c)"},{"t":356.7,"p":1932.3,"txt":"(b)"},
      {"t":349.2,"p":1907.9,"txt":"(a)"},{"t":362.4,"p":1903.6,"txt":"(c)"},{"t":372.4,"p":1949.6,"txt":"(a)"},
      {"t":383.2,"p":1925.5,"txt":"(b)"},{"t":399.5,"p":1966.4,"txt":"(c)"},{"t":425.7,"p":1990.4,"txt":"(a)"}
    ],
    "minute": [
      {"t":64.9,"p":1965.1,"txt":"[iii]"},{"t":89.9,"p":1921.4,"txt":"[iv]"},{"t":141.4,"p":1975.5,"txt":"[v]"},
      {"t":153.7,"p":1939.4,"txt":"[a]"},{"t":192.3,"p":1994.5,"txt":"[b]"},{"t":216.7,"p":1946.9,"txt":"[c]"},
      {"t":244.4,"p":1991.7,"txt":"[d]"},{"t":258.2,"p":1951.7,"txt":"[e]"},{"t":341.7,"p":1946.8,"txt":"[x]"},
      {"t":331.1,"p":1910.3,"txt":"[w]"},{"t":362.8,"p":1901.7,"txt":"[v]"}
    ],
    "minuteBig": [
      {"t":399.8,"p":1969.1,"txt":"[W]"},{"t":400.7,"p":1937.3,"txt":"[X]"}
    ],
    "minor": [
      {"t":141.1,"p":1979.2,"txt":"3"},{"t":288.7,"p":1994.3,"txt":"5"},{"t":258.5,"p":1947.4,"txt":"4"},{"t":363.1,"p":1899.4,"txt":"A"}
    ],
    "intermediate": [
      {"t":289.0,"p":1998.4,"txt":"(5)"}
    ],
    "notes": [
      {"t":365.5,"p":1899.5,"txt":"possible impulse"},
      {"t":364.3,"p":1895.6,"txt":"possible triple zigzag underway or complete"}
    ],
    "logoBox": [{"t":9.0,"p":1997.0,"txt":"TD"}],
    "logoWord": [{"t":15.8,"p":1997.0,"txt":"Ameritrade"}]
  },
  "encoding": {
    "x": {
      "field": "t", "type": "quantitative", "title": null,
      "scale": {"domain": [-0.8, 444.4], "nice": false, "zero": false},
      "axis": {
        "orient": "bottom",
        "values": [-0.5, 27.5, 62.5, 97.5, 132.5, 167.5, 174.5, 195.5, 230.5, 265.5, 300.5, 328.5, 335.5, 370.5, 405.5, 440.5],
        "labelExpr": "['May','Jun','9','16','23','30','Jul','7','14','21','28','Aug','4','11','18','25'][indexof([-0.5,27.5,62.5,97.5,132.5,167.5,174.5,195.5,230.5,265.5,300.5,328.5,335.5,370.5,405.5,440.5], datum.value)]",
        "labelFontWeight": {"condition": {"test": "indexof([-0.5,27.5,174.5,328.5], datum.value) >= 0", "value": "bold"}, "value": "normal"},
        "grid": true, "gridWidth": 1.5, "domain": false,
        "labelFlush": 3, "labelOverlap": false, "labelPadding": 2
      }
    }
  },
  "layer": [
    {
      "data": {"name": "bars"},
      "mark": {"type": "rule", "strokeWidth": 1.2},
      "encoding": {
        "y": {
          "field": "h", "type": "quantitative", "title": null,
          "scale": {"domain": [1893.9, 2000.6], "nice": false, "zero": false},
          "axis": {
            "orient": "right",
            "values": [1895,1897.5,1900,1902.5,1905,1907.5,1910,1912.5,1915,1917.5,1920,1922.5,1925,1927.5,1930,1932.5,1935,1937.5,1940,1942.5,1945,1947.5,1950,1952.5,1955,1957.5,1960,1962.5,1965,1967.5,1970,1972.5,1975,1977.5,1980,1982.5,1985,1987.5,1990,1992.5,1995,1997.5,2000],
            "format": ",.2f", "grid": true, "gridWidth": 1,
            "domain": true, "domainColor": "#b4bcb4",
            "labelAlign": "left", "labelPadding": 3, "labelOffset": 1.5, "labelOverlap": false, "labelBaseline": "middle", "labelColor": "#333333"
          }
        },
        "y2": {"field": "l"},
        "color": {"condition": {"test": "datum.c < datum.o", "value": "#cc0000"}, "value": "#161616"}
      }
    },
    {
      "data": {"name": "bars"},
      "mark": {"type": "rule", "strokeWidth": 1, "xOffset": -1.7, "x2Offset": 0},
      "encoding": {
        "x2": {"field": "t"},
        "y": {"field": "o", "type": "quantitative", "title": null, "scale": {"domain": [1893.9, 2000.6], "nice": false, "zero": false}},
        "color": {"condition": {"test": "datum.c < datum.o", "value": "#cc0000"}, "value": "#161616"}
      }
    },
    {
      "data": {"name": "bars"},
      "mark": {"type": "rule", "strokeWidth": 1, "xOffset": 0, "x2Offset": 1.7},
      "encoding": {
        "x2": {"field": "t"},
        "y": {"field": "c", "type": "quantitative", "title": null, "scale": {"domain": [1893.9, 2000.6], "nice": false, "zero": false}},
        "color": {"condition": {"test": "datum.c < datum.o", "value": "#cc0000"}, "value": "#161616"}
      }
    },
    {
      "data": {"name": "triangle"},
      "mark": {"type": "rule", "strokeWidth": 1.2, "color": "#4d7cf2"},
      "encoding": {
        "x2": {"field": "t2"},
        "y": {"field": "p", "type": "quantitative", "title": null, "scale": {"domain": [1893.9, 2000.6], "nice": false, "zero": false}},
        "y2": {"field": "p2"}
      }
    },
    {
      "data": {"name": "levels"},
      "mark": {"type": "rule", "strokeWidth": 1, "color": "#111111"},
      "encoding": {
        "x2": {"field": "t2"},
        "y": {"field": "p", "type": "quantitative", "title": null, "scale": {"domain": [1893.9, 2000.6], "nice": false, "zero": false}},
        "y2": {"field": "p2"}
      }
    },
    {
      "data": {"name": "minuette"},
      "mark": {"type": "text", "fontSize": 11, "color": "#d9a521", "align": "center", "baseline": "middle"},
      "encoding": {
        "y": {"field": "p", "type": "quantitative", "title": null, "scale": {"domain": [1893.9, 2000.6], "nice": false, "zero": false}},
        "text": {"field": "txt"}
      }
    },
    {
      "data": {"name": "minute"},
      "mark": {"type": "text", "fontSize": 13, "color": "#6cc810", "align": "center", "baseline": "middle"},
      "encoding": {
        "y": {"field": "p", "type": "quantitative", "title": null, "scale": {"domain": [1893.9, 2000.6], "nice": false, "zero": false}},
        "text": {"field": "txt"}
      }
    },
    {
      "data": {"name": "minuteBig"},
      "mark": {"type": "text", "fontSize": 16, "color": "#6cc810", "align": "center", "baseline": "middle"},
      "encoding": {
        "y": {"field": "p", "type": "quantitative", "title": null, "scale": {"domain": [1893.9, 2000.6], "nice": false, "zero": false}},
        "text": {"field": "txt"}
      }
    },
    {
      "data": {"name": "minor"},
      "mark": {"type": "text", "fontSize": 12, "color": "#3d6cf5", "align": "center", "baseline": "middle"},
      "encoding": {
        "y": {"field": "p", "type": "quantitative", "title": null, "scale": {"domain": [1893.9, 2000.6], "nice": false, "zero": false}},
        "text": {"field": "txt"}
      }
    },
    {
      "data": {"name": "intermediate"},
      "mark": {"type": "text", "fontSize": 18, "color": "#a98bd9", "align": "center", "baseline": "middle"},
      "encoding": {
        "y": {"field": "p", "type": "quantitative", "title": null, "scale": {"domain": [1893.9, 2000.6], "nice": false, "zero": false}},
        "text": {"field": "txt"}
      }
    },
    {
      "data": {"name": "notes"},
      "mark": {"type": "text", "fontSize": 11, "color": "#111111", "align": "left", "baseline": "middle"},
      "encoding": {
        "y": {"field": "p", "type": "quantitative", "title": null, "scale": {"domain": [1893.9, 2000.6], "nice": false, "zero": false}},
        "text": {"field": "txt"}
      }
    },
    {
      "data": {"name": "logoBox"},
      "mark": {"type": "square", "size": 840, "filled": true, "color": "#bdbdbd", "opacity": 1},
      "encoding": {
        "y": {"field": "p", "type": "quantitative", "title": null, "scale": {"domain": [1893.9, 2000.6], "nice": false, "zero": false}}
      }
    },
    {
      "data": {"name": "logoBox"},
      "mark": {"type": "text", "fontSize": 15, "fontWeight": "bold", "color": "#dadada", "align": "center", "baseline": "middle"},
      "encoding": {
        "y": {"field": "p", "type": "quantitative", "title": null, "scale": {"domain": [1893.9, 2000.6], "nice": false, "zero": false}},
        "text": {"field": "txt"}
      }
    },
    {
      "data": {"name": "logoWord"},
      "mark": {"type": "text", "fontSize": 15, "fontWeight": "bold", "color": "#bebebe", "align": "left", "baseline": "middle"},
      "encoding": {
        "y": {"field": "p", "type": "quantitative", "title": null, "scale": {"domain": [1893.9, 2000.6], "nice": false, "zero": false}},
        "text": {"field": "txt"}
      }
    }
  ]
}
